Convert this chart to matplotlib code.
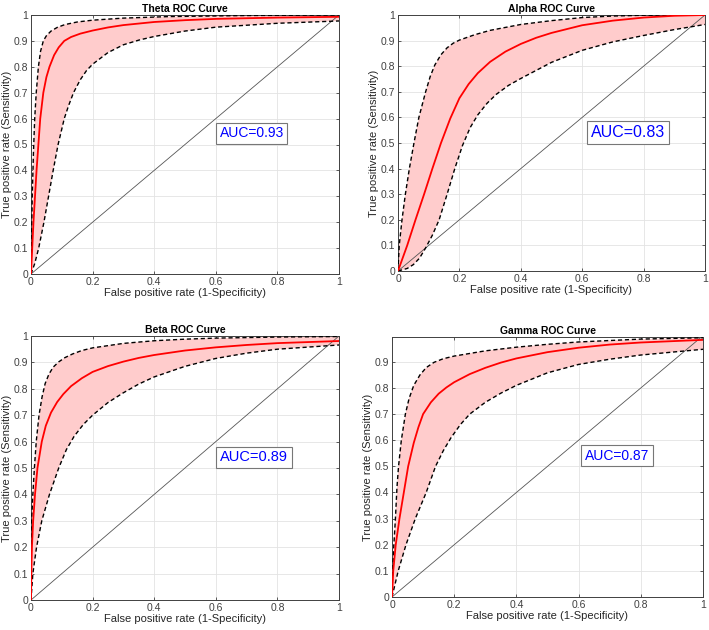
import matplotlib
matplotlib.use("Agg")
import matplotlib.pyplot as plt
import numpy as np

plt.rcParams["font.family"] = ["Liberation Sans", "DejaVu Sans"]

# ---- data (fpr, tpr) ----
theta_mean_fpr = [0, 0.004, 0.008, 0.013, 0.018, 0.024, 0.03, 0.04, 0.05, 0.06, 0.075, 0.09, 0.108, 0.13, 0.16, 0.2, 0.25, 0.3, 0.4, 0.5, 0.6, 0.8, 1.0]
theta_mean_tpr = [0, 0.1, 0.2, 0.3, 0.4, 0.5, 0.6, 0.7, 0.76, 0.8, 0.845, 0.875, 0.9, 0.915, 0.928, 0.94, 0.952, 0.961, 0.973, 0.98, 0.985, 0.99, 0.993]
theta_up_fpr = [0, 0.004, 0.008, 0.012, 0.017, 0.024, 0.031, 0.04, 0.05, 0.065, 0.085, 0.11, 0.15, 0.2, 0.3, 0.45, 0.7, 1.0]
theta_up_tpr = [0, 0.3, 0.47, 0.6, 0.7, 0.8, 0.86, 0.9, 0.92, 0.938, 0.952, 0.963, 0.973, 0.98, 0.988, 0.994, 0.998, 1.0]
theta_lo_fpr = [0, 0.012, 0.025, 0.042, 0.057, 0.072, 0.088, 0.108, 0.122, 0.138, 0.16, 0.18, 0.2, 0.25, 0.3, 0.35, 0.4, 0.5, 0.6, 0.8, 1.0]
theta_lo_tpr = [0, 0.04, 0.1, 0.2, 0.3, 0.4, 0.5, 0.6, 0.65, 0.7, 0.75, 0.785, 0.81, 0.855, 0.885, 0.903, 0.917, 0.938, 0.953, 0.968, 0.977]

alpha_mean_fpr = [0, 0.03, 0.057, 0.085, 0.112, 0.14, 0.17, 0.2, 0.23, 0.26, 0.3, 0.35, 0.4, 0.45, 0.5, 0.6, 0.7, 0.8, 0.9, 1.0]
alpha_mean_tpr = [0, 0.1, 0.2, 0.3, 0.4, 0.5, 0.595, 0.675, 0.73, 0.773, 0.817, 0.857, 0.887, 0.911, 0.93, 0.96, 0.978, 0.99, 0.997, 1.0]
alpha_up_fpr = [0, 0.004, 0.013, 0.024, 0.037, 0.052, 0.068, 0.09, 0.105, 0.12, 0.14, 0.16, 0.18, 0.2, 0.25, 0.3, 0.4, 0.5, 0.6, 0.7, 0.8, 1.0]
alpha_up_tpr = [0, 0.1, 0.2, 0.3, 0.4, 0.5, 0.6, 0.7, 0.76, 0.805, 0.845, 0.872, 0.89, 0.902, 0.923, 0.94, 0.963, 0.978, 0.99, 0.996, 0.999, 1.0]
alpha_lo_fpr = [0, 0.03, 0.05, 0.07, 0.09, 0.112, 0.134, 0.16, 0.185, 0.21, 0.235, 0.26, 0.29, 0.32, 0.36, 0.4, 0.5, 0.6, 0.7, 0.8, 0.9, 1.0]
alpha_lo_tpr = [0, 0.01, 0.025, 0.05, 0.09, 0.14, 0.2, 0.3, 0.4, 0.49, 0.56, 0.61, 0.655, 0.69, 0.725, 0.752, 0.815, 0.862, 0.895, 0.92, 0.943, 0.963]

beta_mean_fpr = [0, 0.001, 0.003, 0.007, 0.013, 0.021, 0.035, 0.048, 0.065, 0.085, 0.105, 0.13, 0.165, 0.2, 0.25, 0.3, 0.35, 0.4, 0.5, 0.6, 0.7, 0.8, 1.0]
beta_mean_tpr = [0, 0.1, 0.2, 0.3, 0.4, 0.5, 0.6, 0.66, 0.71, 0.75, 0.78, 0.81, 0.84, 0.864, 0.886, 0.903, 0.917, 0.928, 0.945, 0.957, 0.966, 0.973, 0.981]
beta_up_fpr = [0, 0.002, 0.006, 0.011, 0.017, 0.026, 0.036, 0.046, 0.058, 0.072, 0.09, 0.11, 0.135, 0.165, 0.2, 0.3, 0.4, 0.5, 0.6, 0.8, 1.0]
beta_up_tpr = [0, 0.3, 0.4, 0.5, 0.6, 0.7, 0.77, 0.82, 0.855, 0.882, 0.902, 0.918, 0.932, 0.945, 0.955, 0.972, 0.982, 0.988, 0.992, 0.996, 0.998]
beta_lo_fpr = [0, 0.006, 0.018, 0.035, 0.06, 0.09, 0.115, 0.14, 0.17, 0.2, 0.25, 0.3, 0.35, 0.4, 0.5, 0.6, 0.7, 0.8, 1.0]
beta_lo_tpr = [0, 0.1, 0.2, 0.3, 0.4, 0.5, 0.57, 0.62, 0.665, 0.7, 0.748, 0.785, 0.818, 0.845, 0.885, 0.915, 0.935, 0.95, 0.966]

gamma_mean_fpr = [0, 0.004, 0.012, 0.024, 0.038, 0.052, 0.07, 0.085, 0.1, 0.125, 0.15, 0.175, 0.2, 0.25, 0.3, 0.35, 0.4, 0.5, 0.6, 0.7, 0.8, 1.0]
gamma_mean_tpr = [0, 0.1, 0.2, 0.3, 0.4, 0.5, 0.59, 0.65, 0.7, 0.745, 0.778, 0.802, 0.822, 0.853, 0.877, 0.897, 0.913, 0.937, 0.954, 0.966, 0.974, 0.984]
gamma_up_fpr = [0, 0.002, 0.006, 0.011, 0.016, 0.021, 0.03, 0.043, 0.055, 0.07, 0.09, 0.11, 0.135, 0.165, 0.2, 0.3, 0.4, 0.5, 0.6, 0.8, 1.0]
gamma_up_tpr = [0, 0.1, 0.2, 0.3, 0.42, 0.5, 0.6, 0.7, 0.76, 0.81, 0.85, 0.878, 0.898, 0.912, 0.922, 0.942, 0.956, 0.967, 0.976, 0.987, 0.992]
gamma_lo_fpr = [0, 0.02, 0.045, 0.075, 0.11, 0.14, 0.165, 0.19, 0.22, 0.25, 0.3, 0.35, 0.4, 0.5, 0.6, 0.7, 0.8, 1.0]
gamma_lo_tpr = [0, 0.1, 0.2, 0.3, 0.4, 0.5, 0.56, 0.61, 0.66, 0.7, 0.745, 0.78, 0.81, 0.858, 0.89, 0.91, 0.926, 0.948]

titles = ["Theta ROC Curve", "Alpha ROC Curve", "Beta ROC Curve", "Gamma ROC Curve"]
auc_labels = ["AUC=0.93", "AUC=0.83", "AUC=0.89", "AUC=0.87"]

panels = [
    (theta_mean_fpr, theta_mean_tpr, theta_up_fpr, theta_up_tpr, theta_lo_fpr, theta_lo_tpr),
    (alpha_mean_fpr, alpha_mean_tpr, alpha_up_fpr, alpha_up_tpr, alpha_lo_fpr, alpha_lo_tpr),
    (beta_mean_fpr, beta_mean_tpr, beta_up_fpr, beta_up_tpr, beta_lo_fpr, beta_lo_tpr),
    (gamma_mean_fpr, gamma_mean_tpr, gamma_up_fpr, gamma_up_tpr, gamma_lo_fpr, gamma_lo_tpr),
]

# layout in pixels (left, right, top, bottom) of each axes box
W, H = 709, 630
boxes = [(31, 339, 15, 274), (398, 705, 15, 271), (31, 339, 336, 600), (392, 703, 337, 597)]
auc_pos = [(0.717, 0.544), (0.75, 0.54), (0.724, 0.54), (0.723, 0.54)]
auc_size = [10, 11.5, 10.5, 10]
ytop = [1.0, 1.0, 1.0, 0.995]

AX_COLOR = "#404040"

fig = plt.figure(figsize=(W / 100, H / 100), dpi=100)

for i, (mf, mt, uf, ut, lf, lt) in enumerate(panels):
    l, r, t, b = boxes[i]
    ax = fig.add_axes([l / W, 1 - b / H, (r - l) / W, (b - t) / H])

    poly_x = np.concatenate([uf, lf[::-1]])
    poly_y = np.concatenate([ut, lt[::-1]])
    ax.fill(poly_x, poly_y, color="#ffcccc", lw=0, zorder=1)
    ax.plot([0, 1], [0, 1], color="#555555", lw=0.6, zorder=2)
    ax.plot(uf, ut, "k--", lw=1.0, dashes=(3, 2), zorder=3)
    ax.plot(lf, lt, "k--", lw=1.0, dashes=(3, 2), zorder=3)
    ax.plot(mf, mt, color="red", lw=1.3, solid_joinstyle="round", zorder=4)

    ax.set_xlim(0, 1)
    ax.set_ylim(0, ytop[i])
    ax.set_xticks(np.arange(0, 1.01, 0.2))
    ax.set_xticklabels(["0", "0.2", "0.4", "0.6", "0.8", "1"])
    yt = np.round(np.arange(0, 1.01, 0.1), 1)
    yt = yt[yt <= ytop[i]]
    ax.set_yticks(yt)
    ax.set_yticklabels(["0" if v == 0 else ("1" if v == 1 else f"{v:g}") for v in yt])
    ax.grid(True, color="#e3e3e3", lw=0.6)
    ax.set_axisbelow(True)
    ax.tick_params(direction="in", length=2.5, width=0.6, labelsize=7.5,
                   colors=AX_COLOR, top=True, right=True, pad=2)
    for s in ax.spines.values():
        s.set_color(AX_COLOR)
        s.set_linewidth(0.7)

    ax.set_title(titles[i], fontsize=7.5, fontweight="bold", pad=2)
    ax.set_xlabel("False positive rate (1-Specificity)", fontsize=8, color="#262626", labelpad=1)
    ax.set_ylabel("True positive rate (Sensitivity)", fontsize=8, color="#262626", labelpad=1)

    ax.text(auc_pos[i][0], auc_pos[i][1], auc_labels[i], fontsize=auc_size[i], color="blue",
            ha="center", va="center", zorder=6,
            bbox=dict(boxstyle="square,pad=0.25", fc="white", ec="#777777", lw=0.8))

fig.savefig("out.png", dpi=100)
plt.close(fig)
